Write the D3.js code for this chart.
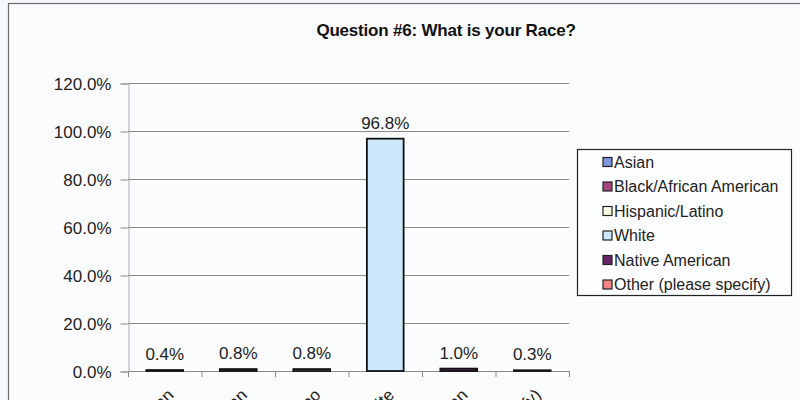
<!DOCTYPE html>
<html>
<head>
<meta charset="utf-8">
<script src="https://cdn.jsdelivr.net/npm/d3@7"></script>
<style>
  html, body { margin: 0; padding: 0; background: #f6f9fc; }
  svg { display: block; font-family: Arial, "Liberation Sans", sans-serif; }
</style>
</head>
<body>
<svg id="chart" width="800" height="400"></svg>
<script>
const categories = ["Asian", "Black/African American", "Hispanic/Latino", "White", "Native American", "Other (please specify)"];
const values = [0.4, 0.8, 0.8, 96.8, 1.0, 0.3];
const colors = ["#7f95dc", "#a3467f", "#fdfde2", "#cce8fa", "#662466", "#f28686"];
const yTicks = [0, 20, 40, 60, 80, 100, 120];
const title = "Question #6: What is your Race?";

(function () {
const svg = d3.select("#chart");

// outer frame (extends beyond the page edge, as in the scan)
svg.append("rect").attr("x", 8.5).attr("y", 3.5).attr("width", 820).attr("height", 420)
  .attr("fill", "#fbfcfe").attr("stroke", "#6b6b6b").attr("stroke-width", 1.2);

const pLeft = 128, pRight = 569, pTop = 83, pBottom = 371;
const x = d3.scaleBand().domain(categories).range([pLeft, pRight]).paddingInner(0.5).paddingOuter(0.25);
const y = d3.scaleLinear().domain([0, 120]).range([pBottom, pTop]);

// gridlines
svg.append("g").selectAll("line").data(yTicks.filter(t => t > 0)).join("line")
  .attr("x1", pLeft).attr("x2", pRight)
  .attr("y1", d => y(d) + 0.5).attr("y2", d => y(d) + 0.5)
  .attr("stroke", "#8a8a8a").attr("stroke-width", 1);

// y axis
const yAxis = d3.axisLeft(y).tickValues(yTicks).tickSize(8).tickPadding(9)
  .tickFormat(d => d.toFixed(1) + "%");
const gy = svg.append("g").attr("transform", `translate(${pLeft + 0.5},0.5)`).call(yAxis);
gy.select(".domain").attr("stroke", "#a8acb8");
gy.selectAll(".tick line").attr("stroke", "#8a8a8a");
gy.selectAll(".tick text").attr("font-size", 17).attr("fill", "#222")
  .attr("font-family", "Arial, 'Liberation Sans', sans-serif").attr("dy", "0.36em");

// x axis line and ticks at band boundaries
svg.append("line").attr("x1", pLeft).attr("x2", pRight).attr("y1", pBottom + 0.5).attr("y2", pBottom + 0.5)
  .attr("stroke", "#8a8a8a");
const step = x.step();
const bounds = d3.range(categories.length + 1).map(i => pLeft + i * step);
svg.append("g").selectAll("line").data(bounds).join("line")
  .attr("x1", d => d + 0.5).attr("x2", d => d + 0.5)
  .attr("y1", pBottom).attr("y2", pBottom + 6)
  .attr("stroke", "#8a8a8a");

// bars
svg.append("g").selectAll("rect").data(values).join("rect")
  .attr("x", (d, i) => x(categories[i]))
  .attr("y", d => y(d))
  .attr("width", x.bandwidth())
  .attr("height", d => Math.max(0.5, pBottom - y(d)))
  .attr("fill", (d, i) => colors[i])
  .attr("stroke", "#111").attr("stroke-width", 1.8);

// data labels
svg.append("g").selectAll("text").data(values).join("text")
  .attr("x", (d, i) => x(categories[i]) + x.bandwidth() / 2)
  .attr("y", d => y(d) - 10)
  .attr("text-anchor", "middle").attr("font-size", 17).attr("fill", "#222")
  .text(d => d.toFixed(1) + "%");

// rotated category labels (mostly cut off at the bottom edge, as in the scan)
svg.append("g").selectAll("text").data(categories).join("text")
  .attr("transform", d => `translate(${x(d) + x.bandwidth() / 2 + 10},${396}) rotate(-45)`)
  .attr("text-anchor", "end").attr("font-size", 17).attr("fill", "#222")
  .text(d => d);

// title
svg.append("text").attr("x", 446).attr("y", 36).attr("text-anchor", "middle")
  .attr("font-size", 17).attr("font-weight", "bold").attr("fill", "#111")
  .attr("letter-spacing", -0.2)
  .text(title);

// legend
const lg = svg.append("g");
lg.append("rect").attr("x", 577.5).attr("y", 149.5).attr("width", 214).attr("height", 146)
  .attr("fill", "#fdfeff").attr("stroke", "#222").attr("stroke-width", 1.2);
const ly = d3.scalePoint().domain(categories).range([162, 284.5]);
const items = lg.selectAll("g").data(categories).join("g")
  .attr("transform", d => `translate(0,${ly(d)})`);
items.append("rect").attr("x", 603).attr("y", -4.5).attr("width", 9).attr("height", 9)
  .attr("fill", (d, i) => colors[i]).attr("stroke", "#222").attr("stroke-width", 1.2);
items.append("text").attr("x", 614).attr("y", 0).attr("dy", "0.36em")
  .attr("font-size", 16).attr("fill", "#222")
  .text(d => d);
})();
</script>
</body>
</html>
